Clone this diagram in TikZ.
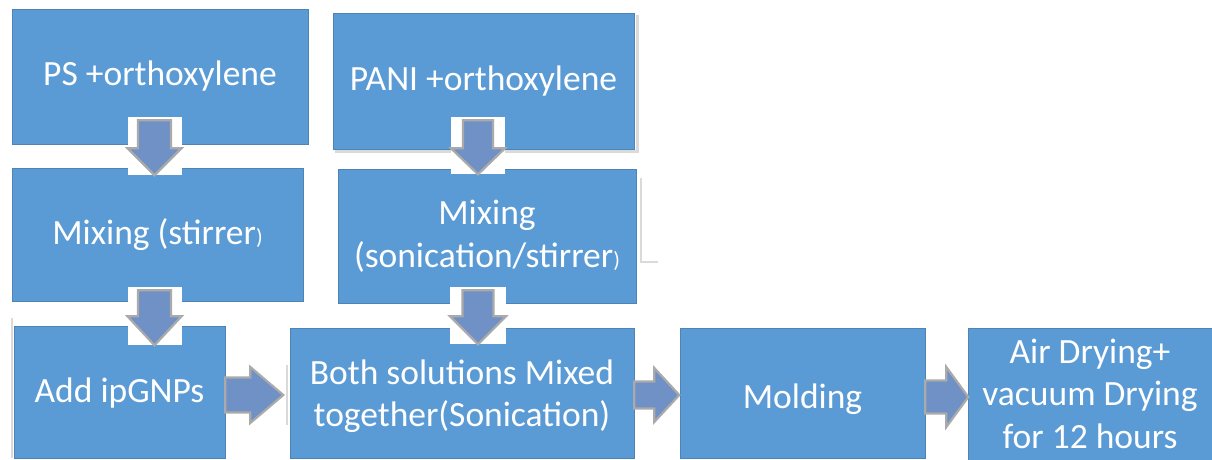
\documentclass[tikz,border=0pt]{standalone}
\usepackage{fontspec}
\setmainfont{Carlito}
\usetikzlibrary{calc}
\definecolor{boxblue}{RGB}{91,155,213}
\definecolor{arrowblue}{RGB}{112,145,197}
\definecolor{arrowedge}{RGB}{170,170,170}
\definecolor{shadowgray}{RGB}{218,218,218}
\tikzset{
  stepbox/.style={fill=boxblue, draw=boxblue!85!black, line width=0.6pt,
    inner sep=0pt, align=center, text=white,
    font=\fontsize{35.5}{42.5}\selectfont},
  blockarrow/.style={fill=arrowblue, draw=arrowedge, line width=2.2pt, line join=miter},
  ghostline/.style={draw=shadowgray, line width=3pt},
}
% centred lines set a little below the box centre: #1 drop, #2 lines
\newcommand\steplines[2]{\raisebox{-#1}[\height][\depth]{\begin{tabular}{@{}c@{}}#2\end{tabular}}}
% downward block arrow: #1 top-centre, #2 length, #3 head length, #4 shaft width, #5 head width
\newcommand\blockdown[5]{%
  \fill[white] ($(#1)+(-#5/2,-3)$) rectangle ($(#1)+(#5/2,#2)$);
  \draw[blockarrow] (#1) ++(-#4/2,0) -- ++(#4,0) -- ++(0,#2-#3)
    -- ++(#5/2-#4/2,0) -- ++(-#5/2,#3) -- ++(-#5/2,-#3) -- ++(#5/2-#4/2,0) -- cycle;}
% rightward block arrow: #1 tail-centre, #2 length, #3 head length, #4 shaft width, #5 head width
\newcommand\blockright[5]{%
  \draw[blockarrow] (#1) ++(0,-#4/2) -- ++(#2-#3,0) -- ++(0,-#5/2+#4/2)
    -- ++(#3,#5/2) -- ++(-#3,#5/2) -- ++(0,-#5/2+#4/2) -- ++(-#2+#3,0) -- cycle;}
\begin{document}
\begin{tikzpicture}[x=1pt,y=-1pt]
\useasboundingbox (0,0) rectangle (1212,460);

% faint outlines left around some boxes
\draw[ghostline] (637,15) -- (637,151) -- (335,151);
\draw[ghostline, line width=2.5pt] (641,178) -- (641,262) -- (658,262);
\draw[ghostline, line width=2.5pt] (12,318) -- (12,458);
\draw[draw=shadowgray, line width=1.5pt] (287,365) -- (287,425);

% process steps
\node[stepbox, minimum width=296, minimum height=135] (ps)   at (160,76.5) {PS +orthoxylene};
\node[stepbox, minimum width=291, minimum height=133] (mix1) at (157.5,235)
  {Mixing (stirrer{\fontsize{22}{22}\selectfont)}};
\node[stepbox, minimum width=211, minimum height=132] (gnp)  at (119.5,392)
  {\steplines{2pt}{Add ipGNPs}};
\node[stepbox, minimum width=301, minimum height=136] (pani) at (483.5,81) {PANI +orthoxylene};
\node[stepbox, minimum width=298, minimum height=134] (mix2) at (487,236)
  {Mixing\\(sonication/stirrer{\fontsize{22}{22}\selectfont)}};
\node[stepbox, minimum width=344, minimum height=130] (both) at (462,393)
  {\steplines{4pt}{Both solutions Mixed\\together(Sonication)}};
\node[stepbox, minimum width=245, minimum height=130] (mold) at (802.5,393)
  {\steplines{7pt}{Molding}};
\node[stepbox, minimum width=244, minimum height=132] (dry)  at (1090,394)
  {\steplines{3pt}{Air Drying+\\vacuum Drying\\for 12 hours}};

% connectors
\coordinate (d1) at ($(ps.south)+(-5.5,-24)$);
\coordinate (d2) at ($(mix1.south)+(-3,-11.5)$);
\coordinate (d3) at ($(pani.south)+(-5.5,-29)$);
\coordinate (d4) at ($(mix2.south)+(-9,-13)$);
\blockdown{d1}{55}{27}{33}{54}
\blockdown{d2}{55}{29}{33}{54}
\blockdown{d3}{54}{26}{30}{54}
\blockdown{d4}{54}{28}{31}{56}

\coordinate (r1) at ($(gnp.east)+(0,3)$);
\coordinate (r2) at ($(both.east)+(0,2)$);
\coordinate (r3) at ($(mold.east)+(0,4)$);
\blockright{r1}{58}{33}{35}{56}
\blockright{r2}{45}{25}{27}{54}
\blockright{r3}{43}{22}{33}{60}
\end{tikzpicture}
\end{document}
